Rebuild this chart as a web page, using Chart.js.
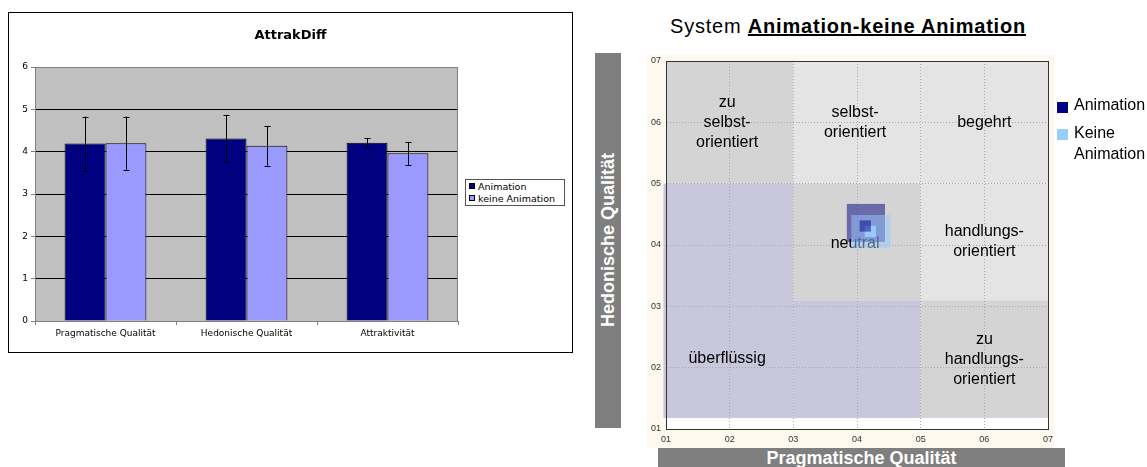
<!DOCTYPE html>
<html>
<head>
<meta charset="utf-8">
<script src="https://cdn.jsdelivr.net/npm/chart.js@4.4.1/dist/chart.umd.min.js"></script>
<style>
  html, body { margin: 0; padding: 0; background: #fff; }
  body { width: 1147px; height: 467px; position: relative; overflow: hidden; font-family: "Liberation Sans", Arial, sans-serif; }
  .abs { position: absolute; }
  #leftBox { left: 8px; top: 12px; width: 563px; height: 339px; border: 1px solid #000; }
  #leftTitle { left: 0; top: 14px; width: 563px; text-align: center; font: bold 13px "DejaVu Sans", Verdana, sans-serif; }
  #leftLegend { left: 456px; top: 166px; width: 98px; height: 25px; border: 1px solid #555; background: #fff; font: 9.5px "DejaVu Sans", Verdana, sans-serif; }
  #leftLegend div { position: absolute; left: 3px; white-space: nowrap; }
  #leftLegend span { display: inline-block; width: 4px; height: 4px; border: 1px solid #000; margin-right: 3px; vertical-align: 1px; }
  #rightTitle { left: 670px; top: 15px; font-size: 20px; letter-spacing: 0.8px; white-space: nowrap; }
  #rightTitle b { text-decoration: underline; }
  #frame { left: 647px; top: 55px; width: 407px; height: 393px; background: #fdf9ee; }
  #yBar { left: 595px; top: 53px; width: 26px; height: 375px; background: #7f7f7f; }
  #yBar div { position: absolute; left: 13px; top: 187px; transform: translate(-50%, -50%) rotate(-90deg); color: #fff; font-weight: bold; font-size: 18px; white-space: nowrap; }
  #xBar { left: 658px; top: 448px; width: 407px; height: 22px; background: #7f7f7f; color: #fff; font-weight: bold; font-size: 18px; text-align: center; line-height: 20px; }
  #rightLegend { left: 1057px; top: 94px; font-size: 16px; line-height: 21px; }
  #rightLegend span { position: absolute; left: 0; width: 11px; height: 11px; }
  #rightLegend div { position: absolute; left: 17px; white-space: nowrap; }
</style>
</head>
<body>
<div id="leftBox" class="abs">
  <div id="leftTitle" class="abs">AttrakDiff</div>
  <canvas id="bars" width="563" height="339"></canvas>
  <div id="leftLegend" class="abs">
    <div style="top:1px"><span style="background:#000080"></span>Animation</div>
    <div style="top:13px"><span style="background:#9999ff"></span>keine Animation</div>
  </div>
</div>

<div id="rightTitle" class="abs">System <b>Animation-keine Animation</b></div>
<div id="frame" class="abs"></div>
<div id="yBar" class="abs"><div>Hedonische Qualität</div></div>
<div id="xBar" class="abs">Pragmatische Qualität</div>
<canvas id="portfolio" class="abs" style="left:640px;top:50px" width="420" height="400"></canvas>
<div id="rightLegend" class="abs">
  <span style="top:8px;background:#000080"></span><div style="top:0">Animation</div>
  <span style="top:35px;background:#99ccff"></span><div style="top:28px">Keine<br>Animation</div>
</div>

<script>
// ---- AttrakDiff bar chart data
const categories = ['Pragmatische Qualität', 'Hedonische Qualität', 'Attraktivität'];
const animValues = [4.19, 4.31, 4.21];
const animErr = [0.64, 0.56, 0.11];
const keineValues = [4.20, 4.14, 3.96];
const keineErr = [0.63, 0.47, 0.27];

// ---- Portfolio data (x = Pragmatische, y = Hedonische)
const animMean = [4.13, 4.31];
const keineMean = [4.21, 4.22];
const animCiX = [3.84, 4.44];
const animCiY = [4.05, 4.67];
const keineCiX = [3.91, 4.53];
const keineCiY = [3.95, 4.49];
const portfolioTicks = [1, 2, 3, 4, 5, 6, 7];

const regionNames = ['zu selbst-orientiert', 'selbst-orientiert', 'begehrt', 'überflüssig', 'überflüssig', 'neutral', 'handlungs-orientiert', 'zu handlungs-orientiert'];
const regionX0 = [1, 3, 5, 0.96, 3, 3, 5, 5];
const regionX1 = [3, 5, 7, 3, 5, 5, 7, 7];
const regionY0 = [5, 5, 5, 1.18, 1.18, 3.1, 3.1, 1.18];
const regionY1 = [7, 7, 7, 5, 3.1, 5, 5, 3.1];

const labelLines = [['zu', 'selbst-', 'orientiert'], ['selbst-', 'orientiert'], ['begehrt'], ['überflüssig'], ['neutral'], ['handlungs-', 'orientiert'], ['zu', 'handlungs-', 'orientiert']];
const labelX = [1.96, 3.97, 6, 1.96, 3.97, 6, 6];
const labelY = [6, 6, 6, 2.15, 4.03, 4.05, 2.13];

//Bar chart plugins
const plotBg = {
    id: 'plotBg',
    beforeDraw(chart) {
        const { ctx, chartArea: a } = chart;
        ctx.save();
        ctx.fillStyle = '#c0c0c0';
        ctx.fillRect(a.left, a.top, a.right - a.left, a.bottom - a.top);
        ctx.restore();
    },
    beforeDatasetsDraw(chart) {
        const { ctx, chartArea: a } = chart;
        ctx.save();
        ctx.strokeStyle = '#808080';
        ctx.lineWidth = 1;
        ctx.strokeRect(a.left + 0.5, a.top + 0.5, a.right - a.left - 1, a.bottom - a.top);
        ctx.restore();
    }
};

const errorBars = {
    id: 'errorBars',
    afterDatasetsDraw(chart) {
        const ctx = chart.ctx;
        const y = chart.scales.y;
        const errs = [animErr, keineErr];
        ctx.save();
        ctx.strokeStyle = '#000';
        ctx.lineWidth = 1;
        chart.data.datasets.forEach((ds, i) => {
            chart.getDatasetMeta(i).data.forEach((bar, j) => {
                const top = y.getPixelForValue(ds.data[j] + errs[i][j]);
                const bottom = y.getPixelForValue(ds.data[j] - errs[i][j]);
                const x = Math.round(bar.x) + 0.5;
                ctx.beginPath();
                ctx.moveTo(x, top); ctx.lineTo(x, bottom);
                ctx.moveTo(x - 3, Math.round(top) + 0.5); ctx.lineTo(x + 3, Math.round(top) + 0.5);
                ctx.moveTo(x - 3, Math.round(bottom) + 0.5); ctx.lineTo(x + 3, Math.round(bottom) + 0.5);
                ctx.stroke();
            });
        });
        ctx.restore();
    }
};

new Chart(document.getElementById('bars'), {
    type: 'bar',
    data: {
        labels: categories,
        datasets: [
            { label: 'Animation', data: animValues, backgroundColor: '#000080', borderColor: '#000', borderWidth: 1 },
            { label: 'keine Animation', data: keineValues, backgroundColor: '#9999ff', borderColor: '#000', borderWidth: 1 }
        ]
    },
    options: {
        responsive: false,
        animation: false,
        layout: { padding: { top: 54, right: 114, left: 0, bottom: 0 } },
        datasets: { bar: { categoryPercentage: 0.58, barPercentage: 1.0 } },
        scales: {
            x: {
                afterFit: (s) => { s.height = 31; },
                grid: { offset: true, drawOnChartArea: false, tickLength: 4, color: '#808080' },
                border: { color: '#808080' },
                ticks: { padding: 3, color: '#000', font: { family: 'DejaVu Sans', size: 9 } }
            },
            y: {
                min: 0,
                max: 6,
                afterFit: (s) => { s.width = 26; },
                grid: {
                    tickLength: 4,
                    color: (c) => c.tick && (c.tick.value === 6 || c.tick.value === 0) ? 'rgba(0,0,0,0)' : '#000',
                    tickColor: '#808080'
                },
                border: { color: '#808080' },
                ticks: { stepSize: 1, padding: 3, color: '#000', font: { family: 'DejaVu Sans', size: 9 } }
            }
        },
        plugins: { legend: { display: false }, tooltip: { enabled: false } }
    },
    plugins: [plotBg, errorBars]
});

//Portfolio plugins
const regionColors = {
    'zu selbst-orientiert': '#d4d4d4',
    'selbst-orientiert': '#e4e4e4',
    'begehrt': '#e4e4e4',
    'überflüssig': '#c8c7db',
    'neutral': '#d4d4d4',
    'handlungs-orientiert': '#e4e4e4',
    'zu handlungs-orientiert': '#d4d4d4'
};

const portfolioLayers = {
    id: 'portfolioLayers',
    beforeDraw(chart) {
        const { ctx, chartArea: a, scales: { x, y } } = chart;
        ctx.save();
        ctx.fillStyle = '#fff';
        ctx.fillRect(a.left, a.top, a.right - a.left, a.bottom - a.top);
        regionNames.forEach((name, i) => {
            const l = x.getPixelForValue(regionX0[i]), r = x.getPixelForValue(regionX1[i]);
            const t = y.getPixelForValue(regionY1[i]), b = y.getPixelForValue(regionY0[i]);
            ctx.fillStyle = regionColors[name];
            ctx.fillRect(l, t, r - l, b - t);
        });
        ctx.restore();
    },
    beforeDatasetsDraw(chart) {
        const { ctx, scales: { x, y } } = chart;
        ctx.save();
        ctx.fillStyle = '#000';
        ctx.font = '16px "Liberation Sans", Arial, sans-serif';
        ctx.textAlign = 'center';
        ctx.textBaseline = 'middle';
        labelLines.forEach((lines, i) => {
            const cx = x.getPixelForValue(labelX[i]);
            const cy = y.getPixelForValue(labelY[i]);
            lines.forEach((txt, k) => {
                ctx.fillText(txt, cx, cy + (k - (lines.length - 1) / 2) * 20);
            });
        });
        // confidence rectangles
        const rects = [[animCiX, animCiY, 'rgba(0,0,128,0.5)'], [keineCiX, keineCiY, 'rgba(153,204,255,0.5)']];
        rects.forEach(([cx, cy, col]) => {
            const l = x.getPixelForValue(cx[0]), r = x.getPixelForValue(cx[1]);
            const t = y.getPixelForValue(cy[1]), b = y.getPixelForValue(cy[0]);
            ctx.fillStyle = col;
            ctx.fillRect(l, t, r - l, b - t);
        });
        ctx.restore();
    },
    afterDraw(chart) {
        const { ctx, chartArea: a } = chart;
        ctx.save();
        ctx.strokeStyle = '#333';
        ctx.lineWidth = 1;
        ctx.strokeRect(Math.round(a.left) + 0.5, Math.round(a.top) + 0.5, Math.round(a.right - a.left), Math.round(a.bottom - a.top));
        ctx.restore();
    }
};

const tickFmt = (v) => portfolioTicks.includes(v) ? '0' + v : '';

new Chart(document.getElementById('portfolio'), {
    type: 'scatter',
    data: {
        datasets: [
            { label: 'Animation', data: [{ x: animMean[0], y: animMean[1] }], pointStyle: 'rect', pointRadius: 8, backgroundColor: 'rgba(0,0,128,0.5)', borderWidth: 0 },
            { label: 'Keine Animation', data: [{ x: keineMean[0], y: keineMean[1] }], pointStyle: 'rect', pointRadius: 8, backgroundColor: 'rgba(153,204,255,0.95)', borderWidth: 0 }
        ]
    },
    options: {
        responsive: false,
        animation: false,
        layout: { padding: { top: 11, right: 12, left: 0, bottom: 0 } },
        scales: {
            x: {
                type: 'linear', min: 1, max: 7,
                afterFit: (s) => { s.height = 21; },
                grid: { color: '#a8a8a8', drawTicks: false },
                border: { color: '#333', dash: [1, 2] },
                ticks: { stepSize: 1, padding: 5, color: '#333', callback: tickFmt, font: { family: 'Liberation Sans', size: 9 } }
            },
            y: {
                type: 'linear', min: 1, max: 7,
                afterFit: (s) => { s.width = 26; },
                grid: { color: '#a8a8a8', drawTicks: false },
                border: { color: '#333', dash: [1, 2] },
                ticks: { stepSize: 1, padding: 5, color: '#333', callback: tickFmt, font: { family: 'Liberation Sans', size: 9 } }
            }
        },
        plugins: { legend: { display: false }, tooltip: { enabled: false } }
    },
    plugins: [portfolioLayers]
});
</script>
</body>
</html>
